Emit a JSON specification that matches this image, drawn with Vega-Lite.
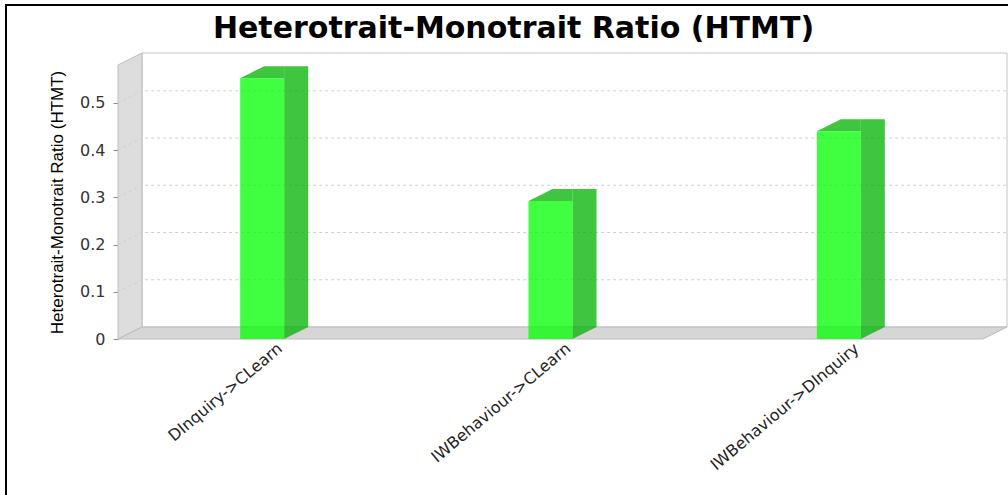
{
  "$schema": "https://vega.github.io/schema/vega-lite/v6.json",
  "width": 865,
  "height": 274,
  "autosize": {"type": "none"},
  "padding": {"left": 118, "top": 65, "right": 25, "bottom": 156},
  "background": "white",
  "config": {
    "view": {"stroke": null},
    "font": "DejaVu Sans",
    "axisX": {
      "domain": false, "ticks": false, "grid": false,
      "labelAngle": -40, "labelAlign": "right", "labelBaseline": "middle",
      "labelFont": "DejaVu Sans", "labelFontSize": 16, "labelColor": "#222222",
      "labelPadding": 7, "labelOffset": 18, "labelLimit": 400
    },
    "axisY": {
      "grid": false,
      "domainColor": "#8a8a8a", "tickColor": "#8a8a8a", "tickSize": 5,
      "labelFont": "DejaVu Sans", "labelFontSize": 16, "labelColor": "#333333", "labelPadding": 8,
      "titleFont": "Liberation Sans", "titleFontSize": 17, "titleFontWeight": "normal",
      "titleColor": "#000000", "titlePadding": 13
    }
  },
  "title": {
    "text": "Heterotrait-Monotrait Ratio (HTMT)",
    "font": "DejaVu Sans",
    "fontSize": 30,
    "fontWeight": "bold",
    "color": "#000000",
    "anchor": "middle",
    "baseline": "alphabetic",
    "dx": -37,
    "offset": -67
  },
  "datasets": {
    "htmt": [
      {"path": "DInquiry->CLearn", "htmt": 0.552},
      {"path": "IWBehaviour->CLearn", "htmt": 0.292},
      {"path": "IWBehaviour->DInquiry", "htmt": 0.44}
    ],
    "grid": [{"htmt": 0.1}, {"htmt": 0.2}, {"htmt": 0.3}, {"htmt": 0.4}, {"htmt": 0.5}]
  },
  "layer": [
    {
      "data": {"values": [{}]},
      "mark": {"type": "point", "shape": "M24,-12L889,-12L889,262L24,262Z", "size": 4, "filled": true, "fill": "#ffffff", "stroke": "#c4c4c4", "strokeWidth": 1, "opacity": 1},
      "encoding": {"x": {"value": 0}, "y": {"value": 0}}
    },
    {
      "data": {"values": [{}]},
      "mark": {"type": "point", "shape": "M0,0L24,-12L24,262L0,274Z", "size": 4, "filled": true, "fill": "#dddddd", "stroke": "#bcbcbc", "strokeWidth": 1, "opacity": 1},
      "encoding": {"x": {"value": 0}, "y": {"value": 0}}
    },
    {
      "data": {"values": [{}]},
      "mark": {"type": "point", "shape": "M0,274L24,262L889,262L865,274Z", "size": 4, "filled": true, "fill": "#d6d6d6", "stroke": "#bcbcbc", "strokeWidth": 1, "opacity": 1},
      "encoding": {"x": {"value": 0}, "y": {"value": 0}}
    },
    {
      "data": {"values": [{}]},
      "mark": {"type": "point", "shape": "M-112,440L-112,-60L900,-60", "size": 4, "filled": false, "stroke": "#000000", "strokeWidth": 2, "opacity": 1},
      "encoding": {"x": {"value": 0}, "y": {"value": 0}}
    },
    {
      "data": {"name": "grid"},
      "mark": {"type": "point", "shape": "M0,0L24,-12L889,-12", "size": 4, "filled": false, "stroke": "#cfcfcf", "strokeWidth": 1, "strokeDash": [3, 3], "opacity": 1},
      "encoding": {
        "x": {"value": 0},
        "y": {"field": "htmt", "type": "quantitative", "scale": {"domain": [0, 0.58], "nice": false, "zero": true},
              "axis": {"values": [0, 0.1, 0.2, 0.3, 0.4, 0.5], "format": "~g", "title": "Heterotrait-Monotrait Ratio (HTMT)"}}
      }
    },
    {
      "data": {"name": "htmt"},
      "mark": {"type": "bar", "size": 24, "xOffset": 34, "yOffset": -12, "y2Offset": -12, "color": "#00b200", "opacity": 0.75},
      "encoding": {
        "x": {"field": "path", "type": "nominal", "sort": null, "scale": {"type": "band", "paddingInner": 0, "paddingOuter": 0}, "axis": {"title": null}},
        "y": {"field": "htmt", "type": "quantitative", "scale": {"domain": [0, 0.58], "nice": false, "zero": true},
              "axis": {"values": [0, 0.1, 0.2, 0.3, 0.4, 0.5], "format": "~g", "title": "Heterotrait-Monotrait Ratio (HTMT)"}}
      }
    },
    {
      "data": {"name": "htmt"},
      "mark": {"type": "point", "shape": "M22,-12L46,-12L22,0Z", "size": 4, "filled": true, "color": "#00b200", "opacity": 0.75},
      "encoding": {
        "x": {"field": "path", "type": "nominal", "sort": null, "axis": {"title": null}},
        "y": {"datum": 0, "type": "quantitative",
              "axis": {"values": [0, 0.1, 0.2, 0.3, 0.4, 0.5], "format": "~g", "title": "Heterotrait-Monotrait Ratio (HTMT)"}}
      }
    },
    {
      "data": {"name": "htmt"},
      "mark": {"type": "point", "shape": "M-22,0L22,0L22,-12L2,-12Z", "size": 4, "filled": true, "color": "#00b200", "opacity": 0.75},
      "encoding": {
        "x": {"field": "path", "type": "nominal", "sort": null, "axis": {"title": null}},
        "y": {"field": "htmt", "type": "quantitative",
              "axis": {"values": [0, 0.1, 0.2, 0.3, 0.4, 0.5], "format": "~g", "title": "Heterotrait-Monotrait Ratio (HTMT)"}}
      }
    },
    {
      "data": {"name": "htmt"},
      "mark": {"type": "bar", "size": 44, "color": "#00ff00", "opacity": 0.75},
      "encoding": {
        "x": {"field": "path", "type": "nominal", "sort": null, "axis": {"title": null}},
        "y": {"field": "htmt", "type": "quantitative",
              "axis": {"values": [0, 0.1, 0.2, 0.3, 0.4, 0.5], "format": "~g", "title": "Heterotrait-Monotrait Ratio (HTMT)"}}
      }
    }
  ]
}
